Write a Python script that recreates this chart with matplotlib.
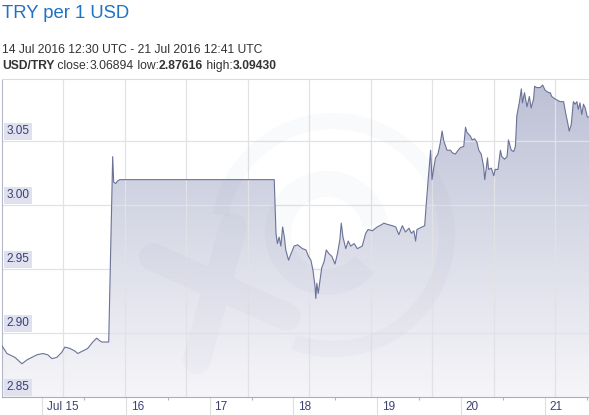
import numpy as np
import matplotlib
matplotlib.use("Agg")
import matplotlib.pyplot as plt
from matplotlib.patches import Polygon, Wedge
from matplotlib.colors import LinearSegmentedColormap
from matplotlib.transforms import Affine2D

plt.rcParams['font.family'] = ['Liberation Sans', 'DejaVu Sans']

# hours since 14 Jul 2016 12:30 UTC
hours = [0.0, 1.43, 3.71, 5.71, 7.14, 8.57, 10.0, 11.71, 13.14, 14.29, 15.71, 17.14, 18.0,
         19.43, 20.86, 21.71, 23.14, 24.57, 26.0, 27.14, 28.0, 28.57, 29.43, 30.57,
         31.71, 32.0, 32.57, 33.14, 33.71, 78.0,
         78.5, 78.9, 79.4, 79.9, 80.4, 80.9, 81.3, 82.1, 82.8, 83.7, 84.7, 86.1, 87.1,
         87.8, 88.5, 89.1, 89.7, 89.9, 90.2, 90.6, 91.1, 91.6, 92.3, 92.9, 93.7, 94.5,
         95.4, 96.1, 96.8, 97.2, 97.7, 98.5, 99.2, 99.9, 100.9, 101.8, 103.2, 104.2,
         104.9, 106.1, 107.5, 108.9, 109.4, 110.4, 111.8, 112.8, 113.7, 114.7, 115.6,
         116.6, 117.3, 118.0, 118.5, 118.9, 119.6, 120.4, 121.1,
         121.5, 122.1, 122.8, 123.2, 123.7, 124.2, 124.9, 125.6, 126.1, 126.6, 127.5,
         128.5, 129.0, 129.9, 130.4, 131.3, 132.3, 132.8, 133.2, 134.2, 134.7, 135.4,
         136.1, 136.6, 137.3, 138.0, 138.3, 138.7, 139.1, 139.4, 140.2, 140.9, 141.3,
         142.1, 142.8, 143.2, 144.0, 144.7, 145.1, 145.9, 146.6, 147.1, 147.5, 148.2,
         148.8, 149.1, 149.7, 150.4, 151.1, 151.6, 152.3, 152.6, 153.2, 154.2, 154.9,
         155.6, 156.6, 157.1, 157.5, 158.5, 159.9, 160.9, 161.5, 162.1, 162.5, 163.1,
         163.7, 164.2, 164.7, 165.1, 165.6, 166.1, 166.6, 167.1, 167.7, 168.18]
rate = [2.890, 2.884, 2.881, 2.876, 2.879, 2.881, 2.883, 2.884, 2.883, 2.880, 2.881, 2.885, 2.889,
        2.888, 2.886, 2.884, 2.886, 2.888, 2.893, 2.896, 2.894, 2.893, 2.893, 2.893,
        3.038, 3.018, 3.017, 3.019, 3.020, 3.020,
        2.978, 2.970, 2.975, 2.968, 2.983, 2.975, 2.965, 2.957, 2.962, 2.968, 2.969, 2.966, 2.965,
        2.960, 2.957, 2.949, 2.936, 2.927, 2.939, 2.931, 2.941, 2.951, 2.956, 2.965, 2.962, 2.960,
        2.954, 2.962, 2.973, 2.986, 2.975, 2.966, 2.972, 2.968, 2.970, 2.966, 2.968, 2.978,
        2.981, 2.980, 2.983, 2.985, 2.986, 2.985, 2.984, 2.983, 2.977, 2.984, 2.979,
        2.982, 2.978, 2.980, 2.972, 2.981, 2.982, 2.983, 2.984,
        2.999, 3.020, 3.043, 3.020, 3.029, 3.037, 3.040, 3.049, 3.058, 3.050, 3.043,
        3.043, 3.041, 3.040, 3.042, 3.045, 3.046, 3.061, 3.057, 3.054, 3.051, 3.052,
        3.049, 3.043, 3.040, 3.030, 3.020, 3.028, 3.037, 3.028, 3.029, 3.023, 3.028,
        3.028, 3.043, 3.038, 3.036, 3.038, 3.051, 3.043, 3.042, 3.046, 3.070, 3.080,
        3.091, 3.080, 3.088, 3.077, 3.085, 3.076, 3.083, 3.093, 3.092, 3.092, 3.094,
        3.090, 3.088, 3.088, 3.085, 3.083, 3.081, 3.081, 3.072, 3.064, 3.058, 3.063,
        3.081, 3.079, 3.081, 3.075, 3.080, 3.071, 3.079, 3.076, 3.069, 3.069]

span_hours = 168.18
y_min, y_max = 2.85, 3.0987
y_ticks = [2.85, 2.90, 2.95, 3.00, 3.05]
day_labels = ["Jul 15", "16", "17", "18", "19", "20", "21"]
midnights = [11.5 + 24 * i for i in range(7)]
noons = [23.5 + 24 * i for i in range(7)]

W, H = 589, 415
fig = plt.figure(figsize=(W / 100, H / 100), dpi=100)
ax = fig.add_axes([2 / W, 18 / H, 587 / W, 318 / H])
ax.set_xlim(0, span_hours)
ax.set_ylim(y_min, y_max)

ax.spines["right"].set_visible(False)
ax.spines["left"].set_color("#b4b7c9")
ax.spines["bottom"].set_color("#a9acc2")
ax.spines["top"].set_color("#dcdcdf")
for s in ["left", "bottom", "top"]:
    ax.spines[s].set_linewidth(0.8)

# grid
for v in y_ticks[1:]:
    ax.axhline(v, color="#e2e2e6", lw=0.9, zorder=2)
grid_step = span_hours * 61.45 / 587
for i in range(1, 10):
    ax.axvline(i * grid_step, color="#e2e2e6", lw=0.9, zorder=2)

# filled area with vertical gradient
verts = [(hours[0], y_min)] + list(zip(hours, rate)) + [(hours[-1], y_min)]
poly = Polygon(verts, closed=True, fill=False, edgecolor="none")
ax.add_patch(poly)
cmap = LinearSegmentedColormap.from_list("fillgrad", ["#f6f6f9", "#bcc0d5"])
grad = np.linspace(0, 1, 256).reshape(-1, 1)
im = ax.imshow(grad, extent=[0, span_hours, y_min, y_max], origin="lower",
               aspect="auto", cmap=cmap, zorder=1)
im.set_clip_path(poly)

# faint watermark (pixel coords, y up)
pix = Affine2D().scale(1 / W, 1 / H) + fig.transFigure
wm = dict(facecolor="#5a6090", edgecolor="none", alpha=0.03, transform=pix, zorder=3)
ax.add_patch(Wedge((333, 180), 122, -110, 170, width=16, **wm))
ax.add_patch(Wedge((327, 182), 62, 10, 320, width=26, **wm))
ax.plot([153, 287, np.nan, 233, 197], [H - 257, H - 317, np.nan, H - 227, H - 360],
        transform=pix, color="#5a6090", alpha=0.03, lw=20, solid_capstyle="round", zorder=3)

ax.plot(hours, rate, color="#6b7298", lw=0.8, zorder=4)

# y labels inside the plot
ax.set_yticks([])
for v in y_ticks:
    ax.annotate(f"{v:.2f}", xy=(0, v), xycoords=("axes fraction", "data"),
                xytext=(3, 2.8), textcoords="offset points", ha="left", va="bottom",
                fontsize=8.5, color="#393f72", zorder=5,
                bbox=dict(boxstyle="square,pad=0.22", fc="#dfe1ee", ec="none"))

# x ticks
ax.set_xticks(midnights)
ax.set_xticklabels([])
ax.set_xticks(noons, minor=True)
ax.tick_params(axis="x", which="major", length=13, color="#dedede", width=0.8)
ax.tick_params(axis="x", which="minor", length=2.5, color="#b0b3c6", width=0.8)
for m, lbl in zip(midnights, day_labels):
    ax.annotate(lbl, xy=(m, 0), xycoords=("data", "axes fraction"),
                xytext=(3.5, -7), textcoords="offset points", ha="left", va="center",
                fontsize=8.5, color="#3b4175", annotation_clip=False)

# header texts
fig.text(2 / W, (H - 18.3) / H, "TRY per 1 USD", fontsize=13.3, color="#1f72c5",
         ha="left", va="baseline")
fig.text(2 / W, (H - 53.3) / H, "14 Jul 2016 12:30 UTC - 21 Jul 2016 12:41 UTC",
         fontsize=8.7, color="#333333", ha="left", va="baseline")

parts = [("USD/TRY", "bold"), (" close:", "normal"), ("3.06894", "normal"),
         (" low:", "normal"), ("2.87616", "bold"), (" high:", "normal"), ("3.09430", "bold")]
renderer = fig.canvas.get_renderer()
x_px = 2
for txt, wt in parts:
    t = fig.text(x_px / W, (H - 69) / H, txt, fontsize=8.7, color="#333333",
                 fontweight=wt, ha="left", va="baseline")
    x_px = t.get_window_extent(renderer).x1

fig.savefig("out.png", dpi=100)
